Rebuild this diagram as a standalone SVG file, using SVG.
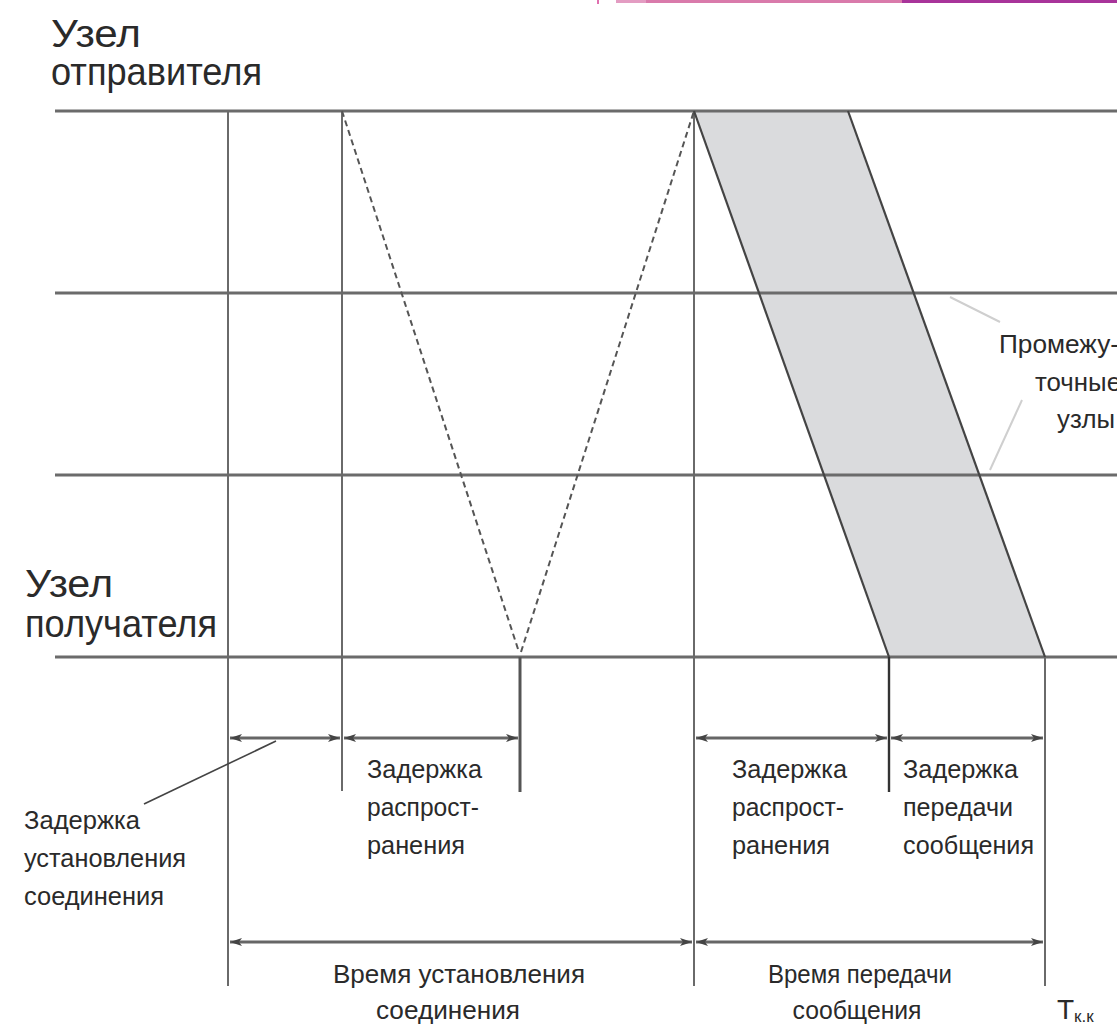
<svg xmlns="http://www.w3.org/2000/svg" width="1117" height="1030" viewBox="0 0 1117 1030">
<style>
.t{font-family:"Liberation Sans",Arial,sans-serif;fill:#2a2a2a}
.big{font-size:39px}
.mid{font-size:26px}
.h{stroke:#6b6b6b;stroke-width:3;fill:none}
.v{stroke:#6a6a6a;stroke-width:2;fill:none}
.vb{stroke:#555;stroke-width:3;fill:none}
.dash{stroke:#555;stroke-width:2;stroke-dasharray:6 4;fill:none}
.arr{stroke:#666;stroke-width:3;fill:none;marker-start:url(#ah);marker-end:url(#ah)}
.lead{stroke:#444;stroke-width:1.6;fill:none}
.faint{stroke:#cfcfcf;stroke-width:2;fill:none}
</style>
<defs>
<marker id="ah" viewBox="0 0 12 8" refX="12" refY="4" markerWidth="12" markerHeight="8" markerUnits="userSpaceOnUse" orient="auto-start-reverse">
<path d="M0,0 L12,4 L0,8 L3,4 Z" fill="#444"/>
</marker>
</defs>
<rect x="0" y="0" width="1117" height="1030" fill="#fff"/>
<g id="topbar">
<rect x="597" y="0" width="2" height="4" fill="#e070b0"/>
<rect x="616" y="0" width="30" height="3" fill="#e39cc2"/>
<rect x="646" y="0" width="256" height="3" fill="#d97aab"/>
<rect x="902" y="0" width="215" height="3" fill="#a8349a"/>
</g>
<g id="band">
<polygon points="694,111 848,111 1045,657 889,657" fill="#dadbdd"/>
</g>
<g id="connectors">
<line class="h" x1="55" y1="111" x2="1117" y2="111"/>
<line class="h" x1="55" y1="293" x2="1117" y2="293"/>
<line class="h" x1="55" y1="475" x2="1117" y2="475"/>
<line class="h" x1="55" y1="657" x2="1117" y2="657"/>
<line class="v" x1="228" y1="111" x2="228" y2="986"/>
<line class="v" x1="342" y1="111" x2="342" y2="791"/>
<line class="vb" x1="520" y1="657" x2="520" y2="792"/>
<line class="v" x1="694" y1="111" x2="694" y2="986"/>
<line class="vb" x1="889" y1="657" x2="889" y2="792" style="stroke-width:2.4;stroke:#333"/>
<line class="v" x1="1045" y1="657" x2="1045" y2="986"/>
<line class="dash" x1="342" y1="111" x2="519" y2="652"/>
<line class="dash" x1="521" y1="652" x2="694" y2="111"/>
<line class="lead" x1="694" y1="111" x2="889" y2="657" style="stroke-width:2.2"/>
<line class="lead" x1="848" y1="111" x2="1045" y2="657" style="stroke-width:2.2"/>
<line class="arr" x1="230" y1="738" x2="340" y2="738"/>
<line class="arr" x1="344" y1="738" x2="518" y2="738"/>
<line class="arr" x1="696" y1="738" x2="887" y2="738"/>
<line class="arr" x1="891" y1="738" x2="1043" y2="738"/>
<line class="arr" x1="230" y1="942" x2="692" y2="942"/>
<line class="arr" x1="696" y1="942" x2="1043" y2="942"/>
<line class="lead" x1="144" y1="804" x2="276" y2="741"/>
<line class="faint" x1="950" y1="297" x2="1000" y2="322"/>
<line class="faint" x1="1022" y1="400" x2="990" y2="470"/>
</g>
<g id="sender">
<text class="t big" x="51" y="47" textLength="90" lengthAdjust="spacingAndGlyphs">Узел</text>
<text class="t big" x="51" y="85" textLength="211" lengthAdjust="spacingAndGlyphs">отправителя</text>
</g>
<g id="receiver">
<text class="t big" x="25" y="597" textLength="88" lengthAdjust="spacingAndGlyphs">Узел</text>
<text class="t big" x="25" y="637" textLength="192" lengthAdjust="spacingAndGlyphs">получателя</text>
</g>
<g id="intermediate">
<text class="t mid" x="999" y="353" textLength="120" lengthAdjust="spacingAndGlyphs">Промежу-</text>
<text class="t mid" x="1035" y="391" textLength="86" lengthAdjust="spacingAndGlyphs">точные</text>
<text class="t mid" x="1057" y="428" textLength="58" lengthAdjust="spacingAndGlyphs">узлы</text>
</g>
<g id="label-setup-delay">
<text class="t mid" x="24" y="829" textLength="116" lengthAdjust="spacingAndGlyphs">Задержка</text>
<text class="t mid" x="24" y="867" textLength="162" lengthAdjust="spacingAndGlyphs">установления</text>
<text class="t mid" x="24" y="905" textLength="140" lengthAdjust="spacingAndGlyphs">соединения</text>
</g>
<g id="label-prop1">
<text class="t mid" x="367" y="778" textLength="115" lengthAdjust="spacingAndGlyphs">Задержка</text>
<text class="t mid" x="367" y="816" textLength="112" lengthAdjust="spacingAndGlyphs">распрост-</text>
<text class="t mid" x="367" y="854" textLength="98" lengthAdjust="spacingAndGlyphs">ранения</text>
</g>
<g id="label-prop2">
<text class="t mid" x="732" y="778" textLength="115" lengthAdjust="spacingAndGlyphs">Задержка</text>
<text class="t mid" x="732" y="816" textLength="112" lengthAdjust="spacingAndGlyphs">распрост-</text>
<text class="t mid" x="732" y="854" textLength="98" lengthAdjust="spacingAndGlyphs">ранения</text>
</g>
<g id="label-trans-delay">
<text class="t mid" x="903" y="778" textLength="115" lengthAdjust="spacingAndGlyphs">Задержка</text>
<text class="t mid" x="903" y="816" textLength="110" lengthAdjust="spacingAndGlyphs">передачи</text>
<text class="t mid" x="903" y="854" textLength="131" lengthAdjust="spacingAndGlyphs">сообщения</text>
</g>
<g id="label-setup-time">
<text class="t mid" x="459" y="983" text-anchor="middle" textLength="252" lengthAdjust="spacingAndGlyphs">Время установления</text>
<text class="t mid" x="448" y="1019" text-anchor="middle" textLength="144" lengthAdjust="spacingAndGlyphs">соединения</text>
</g>
<g id="label-trans-time">
<text class="t mid" x="860" y="983" text-anchor="middle" textLength="184" lengthAdjust="spacingAndGlyphs">Время передачи</text>
<text class="t mid" x="857" y="1019" text-anchor="middle" textLength="129" lengthAdjust="spacingAndGlyphs">сообщения</text>
</g>
<g id="label-tkk">
<text class="t" x="1057" y="1019" style="font-size:28px">Т<tspan dy="3" style="font-size:17px">к.к</tspan></text>
</g>
</svg>
